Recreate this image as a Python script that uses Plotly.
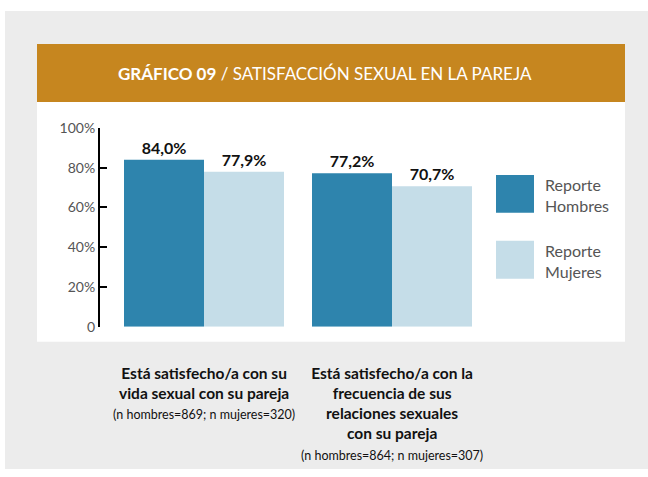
import plotly.graph_objects as go

# ---- data ----
categories = ["cat1", "cat2"]
category_labels = [
    "<b>Está satisfecho/a con su<br>vida sexual con su pareja</b>",
    "<b>Está satisfecho/a con la<br>frecuencia de sus<br>relaciones sexuales<br>con su pareja</b>",
]
category_notes = [
    "(n hombres=869; n mujeres=320)",
    "(n hombres=864; n mujeres=307)",
]
series_names = ["Reporte<br>Hombres", "Reporte<br>Mujeres"]
hombres = [84.0, 77.2]
mujeres = [77.9, 70.7]
tick_vals = [0, 20, 40, 60, 80, 100]
tick_text = ["0", "20%", "40%", "60%", "80%", "100%"]
title_bold = "GRÁFICO 09"
title_rest = " / SATISFACCIÓN SEXUAL EN LA PAREJA"

# ---- styles ----
W, H = 648, 477
C_DARK = "#2e84ad"
C_LIGHT = "#c5dde8"
C_GREY = "#ececec"
C_HEAD = "#c6861f"
FONT = "Lato, 'Open Sans', sans-serif"

# vertical placement compensates for how the page is photographed
OFF, SC = 8.0, 0.965


def px(x):
    return x / W


def py(y):
    d = (y - OFF) / SC
    return max(0.0, min(1.0, 1 - d / H))


def fmt(v):
    return f"{v:.1f}".replace(".", ",") + "%"


fig = go.Figure()
for name, vals, col in [(series_names[0], hombres, C_DARK), (series_names[1], mujeres, C_LIGHT)]:
    fig.add_trace(go.Bar(
        x=categories, y=vals, name=name, marker=dict(color=col, line=dict(width=0)),
        text=[fmt(v) for v in vals], textposition="outside", textangle=0,
        textfont=dict(family=FONT, size=16, color="#111111"),
        texttemplate="<b>%{text}</b>", cliponaxis=False, showlegend=False,
    ))

c0, step = 204, 188
x_left, x_right = 100, 480

shapes = [
    dict(type="rect", xref="paper", yref="paper", x0=px(5), x1=1, y0=0, y1=py(10),
         fillcolor=C_GREY, line=dict(width=0), layer="below"),
    dict(type="rect", xref="paper", yref="paper", x0=px(37), x1=px(625), y0=py(101), y1=py(43),
         fillcolor=C_HEAD, line=dict(width=0), layer="below"),
    dict(type="rect", xref="paper", yref="paper", x0=px(37), x1=px(625), y0=py(341), y1=py(101),
         fillcolor="white", line=dict(width=0), layer="below"),
]

annotations = [
    dict(xref="paper", yref="paper", x=px(325), y=py(73), xanchor="center", yanchor="middle",
         text=f"<b>{title_bold}</b>{title_rest}", showarrow=False,
         font=dict(family=FONT, size=17, color="white")),
]

leg_cols = [C_DARK, C_LIGHT]
leg_tops = [174, 240]
for name, col, top in zip(series_names, leg_cols, leg_tops):
    shapes.append(dict(type="rect", xref="paper", yref="paper", x0=px(496), x1=px(534),
                       y0=py(top + 38), y1=py(top), fillcolor=col, line=dict(width=0)))
    annotations.append(dict(xref="paper", yref="paper", x=px(543), y=py(top + 20),
                            xanchor="left", yanchor="middle", align="left", text=name,
                            showarrow=False, font=dict(family=FONT, size=16, color="#555555")))

for cat, lab, note in zip(categories, category_labels, category_notes):
    annotations.append(dict(
        xref="x", yref="paper", x=cat, y=py(361), xanchor="center", yanchor="top", align="center",
        text=lab + f"<br><span style=\"font-size:12.5px\">{note}</span>",
        showarrow=False, font=dict(family=FONT, size=15.5, color="#111111"),
    ))

fig.update_layout(
    width=W, height=H, margin=dict(l=0, r=0, t=0, b=0),
    paper_bgcolor="white", plot_bgcolor="rgba(0,0,0,0)",
    barmode="group", bargap=1 - 160 / step, bargroupgap=0,
    shapes=shapes, annotations=annotations, showlegend=False,
    xaxis=dict(domain=[px(x_left), px(x_right)],
               range=[(x_left - c0) / step, (x_right - c0) / step],
               showticklabels=False, showgrid=False, zeroline=False, showline=False, ticks=""),
    yaxis=dict(domain=[py(326), py(127)], range=[0, 100], tickvals=tick_vals, ticktext=tick_text,
               ticks="inside", ticklen=7, tickwidth=2, tickcolor="black",
               showline=True, linewidth=2, linecolor="black", showgrid=False, zeroline=False,
               tickfont=dict(family=FONT, size=14, color="#555555")),
)

post = ("document.documentElement.style.margin='0';document.documentElement.style.padding='0';"
        "document.body.style.margin='0';document.body.style.padding='0';"
        "document.body.style.fontSize='0';document.body.style.lineHeight='0';"
        "document.body.style.overflow='hidden';document.documentElement.style.overflow='hidden';")
fig.write_html("out.html", config=dict(responsive=False, displayModeBar=False), post_script=post)
